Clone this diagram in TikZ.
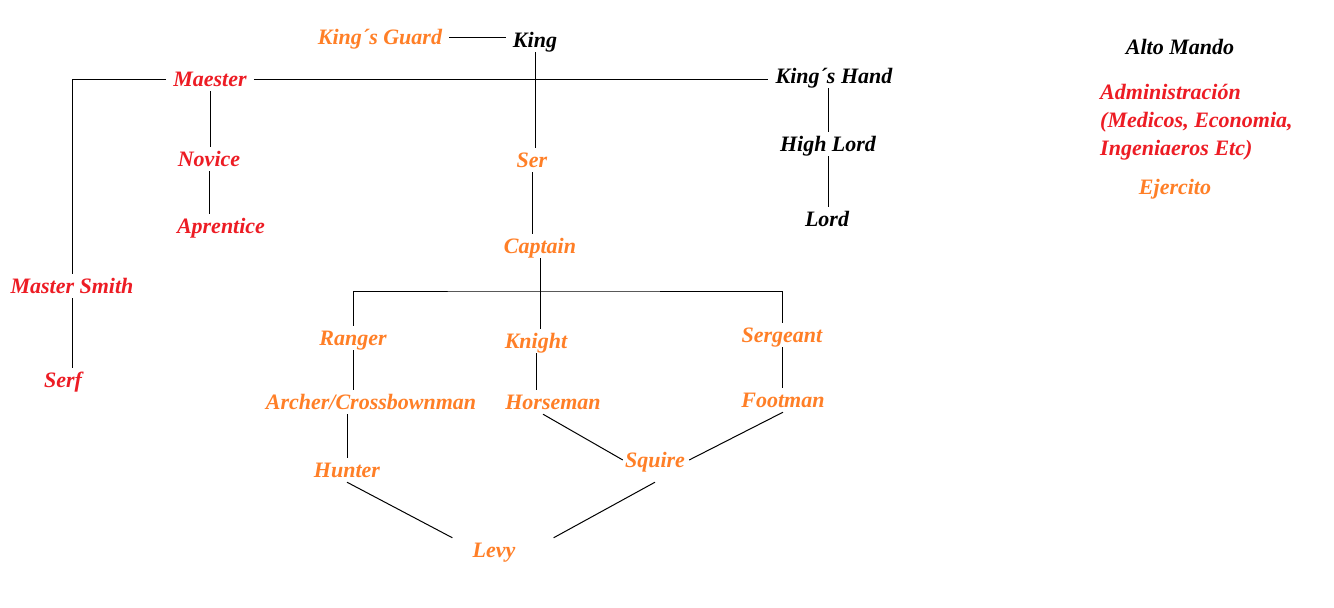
\documentclass[tikz,border=0pt]{standalone}
\usepackage{fontspec}
\setmainfont{Liberation Serif}
\definecolor{cred}{HTML}{ED1C24}
\definecolor{corange}{HTML}{FF7F27}
\begin{document}
\begin{tikzpicture}[x=1pt,y=-1pt,
  lbl/.style={font=\fontsize{22}{28}\selectfont\bfseries\itshape, text height=17pt, text depth=3pt, inner xsep=7pt, inner ysep=2pt},
  rd/.style={lbl, text=cred},
  og/.style={lbl, text=corange},
  bk/.style={lbl, text=black},
  conn/.style={draw=black, line width=1pt}]
\useasboundingbox[fill=white] (0,0) rectangle (1334,608);
% nodes
\node[og] (kg) at (380,37) {King´s Guard};
\node[bk] (king) at (535,40) {King};
\node[rd] (maester) at (210,79) {Maester};
\node[bk] (hand) at (834,76) {King´s Hand};
\node[rd] (novice) at (209,159) {Novice};
\node[rd] (aprentice) at (221,226) {Aprentice};
\node[og] (ser) at (532,160) {Ser};
\node[og] (captain) at (540,246) {Captain};
\node[bk] (highlord) at (828,144) {High Lord};
\node[bk] (lord) at (827,219) {Lord};
\node[rd] (smith) at (72,286) {Master Smith};
\node[rd] (serf) at (63,380) {Serf};
\node[og] (ranger) at (353,338) {Ranger};
\node[og] (knight) at (536,341) {Knight};
\node[og] (sergeant) at (782,335) {Sergeant};
\node[og] (archer) at (371,402) {Archer/Crossbownman};
\node[og] (horseman) at (553,402) {Horseman};
\node[og] (footman) at (783,400) {Footman};
\node[og] (hunter) at (347,470) {Hunter};
\node[og] (squire) at (655,460) {Squire};
\node[og] (levy) at (494,550) {Levy};
\node[bk] (alto) at (1180,47) {Alto Mando};
\node[rd, text height=, text depth=, align=left, anchor=west, inner sep=0pt] (admin) at (1100,122) {Administración\\(Medicos, Economia,\\Ingeniaeros Etc)};
\node[og] (ejercito) at (1175,187) {Ejercito};
\coordinate (bar) at (540,291);
% connectors
\draw[conn] (kg.east) -- (kg.east -| king.west);
\draw[conn] (king.south) -- (king.south |- ser.north);
\draw[conn] (maester.east) -- (maester.east -| hand.west);
\draw[conn] (maester.west) -| (smith.north);
\draw[conn] (smith.south) -- (smith.south |- serf.north);
\draw[conn] (maester.south) -- (maester.south |- novice.north);
\draw[conn] (novice.south) -- (novice.south |- aprentice.north);
\draw[conn] (ser.south) -- (ser.south |- captain.north);
\draw[conn] (hand.south -| highlord.north) -- (highlord.north);
\draw[conn] (highlord.south) -- (highlord.south |- lord.north);
\draw[conn] (captain.south) -- (captain.south |- knight.north);
\draw[conn] (ranger.north) |- (bar) -| (sergeant.north);
\draw[conn] (ranger.south) -- (ranger.south |- archer.north);
\draw[conn] (hunter.north |- archer.south) -- (hunter.north);
\draw[conn] (knight.south) -- (knight.south |- horseman.north);
\draw[conn] (sergeant.south) -- (sergeant.south |- footman.north);
\draw[conn] ([xshift=-10pt]horseman.south) -- ([xshift=5pt]squire.west);
\draw[conn] (footman.south) -- ([xshift=-3pt]squire.east);
\draw[conn] (hunter.south) -- ([xshift=-13pt]levy.north west);
\draw[conn] ([yshift=-10pt]squire.south) -- ([xshift=31pt]levy.north east);
\end{tikzpicture}
\end{document}
